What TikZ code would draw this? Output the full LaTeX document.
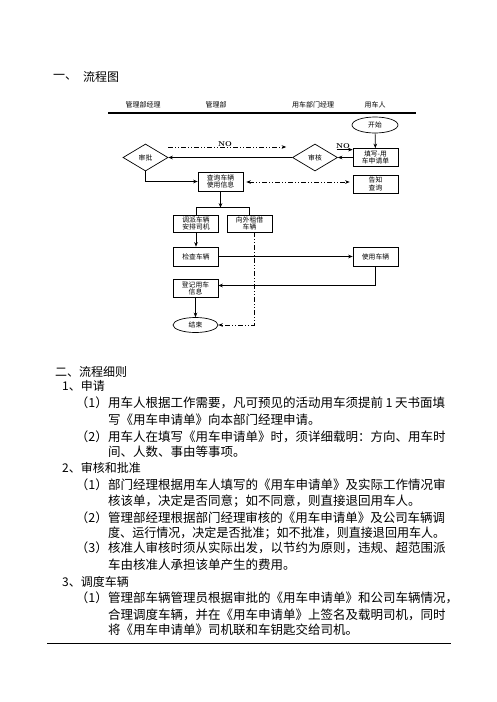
\documentclass[tikz,border=0pt]{standalone}
\usepackage{fontspec}
\usepackage{graphicx}
\newfontfamily\cjk{Noto Sans CJK SC}
\usetikzlibrary{shapes.geometric,arrows.meta,calc}
\XeTeXlinebreaklocale "zh"
\XeTeXlinebreakskip=0pt plus 2pt minus 1.6pt
\newcommand\bodyfont{\cjk\fontsize{12.5}{15}\selectfont}
\newcommand\headfont{\cjk\fontsize{12}{14}\selectfont}
\newcommand\fl[1]{\makebox[337pt][s]{#1}}
\newcommand\sq[1]{\resizebox{337pt}{\height}{#1}}
\begin{document}
\begin{tikzpicture}[x=1pt,y=-1pt,
  box/.style={draw, line width=0.7pt, minimum width=45pt, minimum height=18pt, inner sep=0.5pt, align=center, font=\cjk\fontsize{6.8}{7.7}\selectfont},
  dia/.style={diamond, draw, line width=0.7pt, minimum width=45pt, minimum height=27pt, inner sep=0pt, font=\cjk\fontsize{6.8}{7.7}\selectfont},
  ell/.style={ellipse, draw, line width=0.7pt, minimum width=46pt, minimum height=16pt, inner sep=0pt, font=\cjk\fontsize{6.8}{7.7}\selectfont},
  lane/.style={font=\cjk\fontsize{7}{8}\selectfont, inner sep=0pt},
  nolab/.style={font=\rmfamily\bfseries\fontsize{7}{8}\selectfont, inner sep=0.5pt},
  conn/.style={line width=0.7pt},
  arr/.style={conn, -{Stealth[length=4.5pt,width=3.6pt]}},
  darr/.style={conn, {Stealth[length=4.5pt,width=3.6pt]}-{Stealth[length=4.5pt,width=3.6pt]}},
  dashdot/.style={dash pattern=on 5pt off 2pt on 1pt off 2pt on 1pt off 2pt},
  txt/.style={anchor=west, inner sep=0pt, font=\bodyfont},
  num/.style={anchor=east, inner sep=0pt, font=\bodyfont},
  hd/.style={anchor=west, inner sep=0pt, font=\headfont}
]
\path[fill=white] (0,0) rectangle (496,702);
\useasboundingbox (0,0) rectangle (496,702);

% title
\node[hd] (t1) at (53,77) {一、};
\node[hd] (t2) at (83,77) {流程图};

% lane headers
\node[lane] (l1) at (143,105) {管理部经理};
\node[lane] (l2) at (216,105) {管理部};
\node[lane] (l3) at (313,105) {用车部门经理};
\node[lane] (l4) at (375,105) {用车人};
\draw[line width=1.2pt] (108,113) -- (416,113);

% nodes
\node[ell] (start) at (375,125) {开始};
\node[box] (fill) at (375.5,157.5) {填写-用\\车申请单};
\node[dia] (check) at (315,157.5) {审核};
\node[dia] (appr) at (145.5,157.5) {审批};
\node[box, minimum height=19pt] (query) at (220.5,181.5) {查询车辆\\使用信息};
\node[box] (inform) at (375.5,184) {告知\\查询};
\node[box, minimum height=17pt] (disp) at (196,223.5) {调派车辆\\安排司机};
\node[box, minimum height=17pt] (rent) at (249.5,223.5) {向外租借\\车辆};
\node[box, minimum height=19pt] (inspect) at (196,256.5) {检查车辆};
\node[box, minimum height=19pt] (use) at (375.5,256.5) {使用车辆};
\node[box] (reg) at (195.5,288.5) {登记用车\\信息};
\node[ell, minimum width=45pt, minimum height=15pt] (end) at (195.5,325) {结束};

% connectors
\draw[arr] (start) -- (fill);
\draw[arr] (fill) -- (check);
\draw[arr] (check) -- (appr);
\draw[arr] (appr.south) |- (query.west);

\coordinate (n1s) at ($(appr.east)+(0,-10.5)$);
\coordinate (n1e) at ($(check.west)+(-6,-10.5)$);
\draw[arr, dashdot] (n1s) -- (n1e) node[nolab, pos=0.48, above] {NO};

\coordinate (n2s) at ($(fill.north west)+(-16,1.5)$);
\draw[arr] (n2s) -- ($(fill.north west)+(0,1.5)$) node[nolab, pos=0.4, above] {NO};

\coordinate (q1) at ($(query.east)+(3,0.5)$);
\coordinate (q2) at ($(inform.west |- query.east)+(-3,0.5)$);
\draw[darr, dashdot] (q1) -- (q2);

\coordinate (bl) at ($(disp.north)+(0,-7)$);
\draw[conn] (disp.north) -- (bl) -| (rent.north);
\draw[arr] (query.south) -- (query.south |- bl);

\draw[arr] (disp) -- (inspect);
\draw[arr] (inspect) -- (use);
\draw[arr] (use.south) |- ($(reg.east)+(0,-3)$);
\draw[arr] (reg) -- (end);
\draw[arr, dashdot] ([xshift=4.5pt]rent.south) |- (end.east);

% body text
\node[hd] (h2) at (55,372) {二、流程细则};
\node[hd] (s1) at (62,386) {1、申请};
\node[num] (s1n1) at (108,403) {（1）};
\node[txt] (s1a) at (108,403) {\fl{用车人根据工作需要，凡可预见的活动用车须提前 1 天书面填}};
\node[txt] (s1b) at (108,420) {写《用车申请单》向本部门经理申请。};
\node[num] (s1n2) at (108,437) {（2）};
\node[txt] (s1c) at (108,437) {\fl{用车人在填写《用车申请单》时，须详细载明：方向、用车时}};
\node[txt] (s1d) at (108,452) {间、人数、事由等事项。};

\node[hd] (s2) at (62,468) {2、审核和批准};
\node[num] (s2n1) at (108,485) {（1）};
\node[txt] (s2a) at (108,485) {\fl{部门经理根据用车人填写的《用车申请单》及实际工作情况审}};
\node[txt] (s2b) at (108,501) {核该单，决定是否同意；如不同意，则直接退回用车人。};
\node[num] (s2n2) at (108,518) {（2）};
\node[txt] (s2c) at (108,518) {\sq{管理部经理根据部门经理审核的《用车申请单》及公司车辆调}};
\node[txt] (s2d) at (108,533) {\sq{度、运行情况，决定是否批准；如不批准，则直接退回用车人。}};
\node[num] (s2n3) at (108,548) {（3）};
\node[txt] (s2e) at (108,548) {\fl{核准人审核时须从实际出发，以节约为原则，违规、超范围派}};
\node[txt] (s2f) at (108,565) {车由核准人承担该单产生的费用。};

\node[hd] (s3) at (62,582) {3、调度车辆};
\node[num] (s3n1) at (108,598) {（1）};
\node[txt] (s3a) at (108,598) {\fl{管理部车辆管理员根据审批的《用车申请单》和公司车辆情况，}};
\node[txt] (s3b) at (108,615) {\fl{合理调度车辆，并在《用车申请单》上签名及载明司机，同时}};
\node[txt] (s3c) at (108,630) {将《用车申请单》司机联和车钥匙交给司机。};

\draw[line width=1pt] (47,643) -- (451,643);
\end{tikzpicture}
\end{document}
